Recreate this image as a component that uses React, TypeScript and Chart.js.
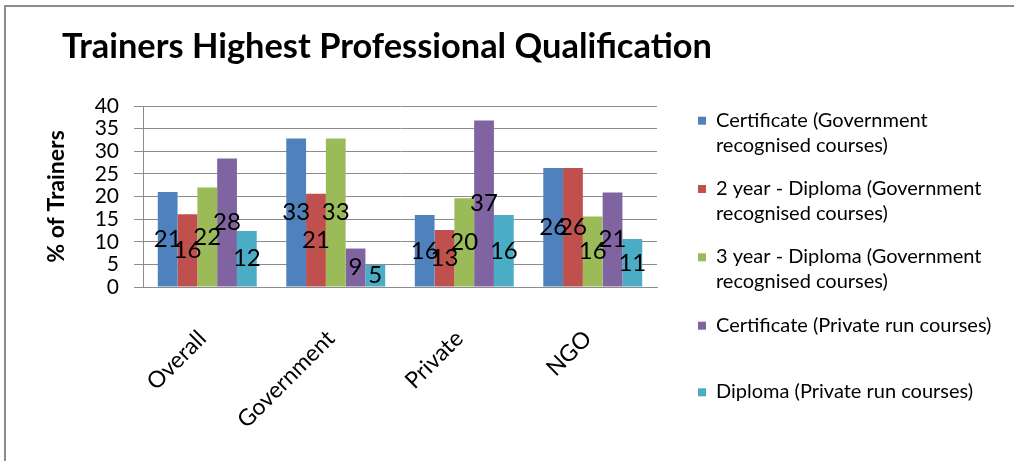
import React, { useEffect, useRef } from "react";
import { Chart, registerables } from "chart.js";

Chart.register(...registerables);

const chartTitle = "Trainers Highest Professional Qualification";
const yAxisTitle = "% of Trainers";
const categories = ["Overall", "Government", "Private", "NGO"];
const certificateGov = [21.0, 32.8, 15.9, 26.3];
const diploma2Gov = [16.1, 20.6, 12.6, 26.3];
const diploma3Gov = [22.0, 32.8, 19.6, 15.6];
const certificatePrivate = [28.4, 8.5, 36.8, 20.9];
const diplomaPrivate = [12.4, 4.9, 15.9, 10.6];
const seriesNames = [
  "Certificate (Government recognised courses)",
  "2 year - Diploma (Government recognised courses)",
  "3 year - Diploma (Government recognised courses)",
  "Certificate (Private run courses)",
  "Diploma (Private run courses)",
];
const legendLines = [
  ["Certificate (Government", "recognised courses)"],
  ["2 year - Diploma (Government", "recognised courses)"],
  ["3 year - Diploma (Government", "recognised courses)"],
  ["Certificate (Private run courses)"],
  ["Diploma (Private run courses)"],
];
const seriesColors = ["#4F81BD", "#C0504D", "#9BBB59", "#8064A2", "#4BACC6"];
const yMin = 0;
const yMax = 40;
const yStep = 5;

const FONT = "Lato, 'Open Sans', sans-serif";

const decorPlugin = {
  id: "decor",
  beforeDraw(chart: any) {
    const ctx = chart.ctx;
    ctx.save();
    ctx.fillStyle = "#ffffff";
    ctx.fillRect(0, 0, chart.width, chart.height);
    ctx.fillStyle = "#8c8c8c";
    ctx.fillRect(4, 5, 2, chart.height - 5);
    ctx.fillRect(4, 5, chart.width - 4, 2);
    ctx.restore();
  },
  afterDatasetsDraw(chart: any) {
    const ctx = chart.ctx;
    ctx.save();
    ctx.fillStyle = "#000000";
    ctx.font = `24px ${FONT}`;
    ctx.textAlign = "center";
    ctx.textBaseline = "middle";
    chart.data.datasets.forEach((ds: any, di: number) => {
      const meta = chart.getDatasetMeta(di);
      meta.data.forEach((el: any, i: number) => {
        const v = ds.data[i];
        const y = (el.y + el.base) / 2;
        ctx.fillText(String(Math.round(v)), el.x, y);
      });
    });
    ctx.restore();
  },
  afterDraw(chart: any) {
    const ctx = chart.ctx;
    ctx.save();
    // title
    ctx.fillStyle = "#000000";
    ctx.font = `bold 34.4px ${FONT}`;
    ctx.textAlign = "left";
    ctx.textBaseline = "alphabetic";
    ctx.fillText(chartTitle, 62, 58);
    // legend
    const firstBaselines = [126.7, 195, 263.3, 331.7, 398.3];
    const lineGap = 25;
    ctx.font = `20px ${FONT}`;
    chart.data.datasets.forEach((ds: any, di: number) => {
      const base = firstBaselines[di];
      ctx.fillStyle = ds.backgroundColor;
      ctx.fillRect(698, base - 10, 8, 8);
      ctx.fillStyle = "#000000";
      legendLines[di].forEach((line, li) => {
        ctx.fillText(line, 716, base + li * lineGap);
      });
    });
    ctx.restore();
  },
};

export default function App() {
  const ref = useRef<HTMLCanvasElement | null>(null);
  useEffect(() => {
    if (!ref.current) return;
    const datasets = [certificateGov, diploma2Gov, diploma3Gov, certificatePrivate, diplomaPrivate].map(
      (data, i) => ({
        label: seriesNames[i],
        data,
        backgroundColor: seriesColors[i],
        borderWidth: 0,
        categoryPercentage: 0.77,
        barPercentage: 1.0,
      })
    );
    const chart = new Chart(ref.current, {
      type: "bar",
      data: { labels: categories, datasets },
      plugins: [decorPlugin],
      options: {
        animation: false,
        responsive: false,
        maintainAspectRatio: false,
        layout: { padding: { left: 40, right: 357, top: 106, bottom: 0 } },
        plugins: {
          legend: { display: false },
          title: { display: false },
          tooltip: { enabled: false },
        },
        scales: {
          x: {
            grid: { display: false },
            border: { display: true, color: "#8c8c8c", width: 1 },
            ticks: {
              color: "#000000",
              font: { family: FONT, size: 23 },
              minRotation: 45,
              maxRotation: 45,
              padding: 30,
              labelOffset: -5,
            },
            afterFit(scale: any) {
              scale.height = 461 - 287;
            },
          },
          y: {
            min: yMin,
            max: yMax,
            ticks: {
              stepSize: yStep,
              autoSkip: false,
              color: "#000000",
              font: { family: FONT, size: 21 },
              padding: 15,
            },
            grid: { color: "#8c8c8c", lineWidth: 1, drawTicks: true, tickLength: 9 },
            border: { display: true, color: "#8c8c8c", width: 1 },
            title: {
              display: true,
              text: yAxisTitle,
              color: "#000000",
              font: { family: FONT, size: 23, weight: "bold" },
              padding: { top: 3, bottom: 0 },
            },
            afterFit(scale: any) {
              scale.width = 143 - 40;
            },
          },
        },
      },
    });
    return () => chart.destroy();
  }, []);
  return (
    <div style={{ position: "fixed", left: 0, top: 0, width: 1014, height: 461, background: "#fff" }}>
      <canvas ref={ref} width={1014} height={461} style={{ display: "block", width: 1014, height: 461 }} />
    </div>
  );
}
